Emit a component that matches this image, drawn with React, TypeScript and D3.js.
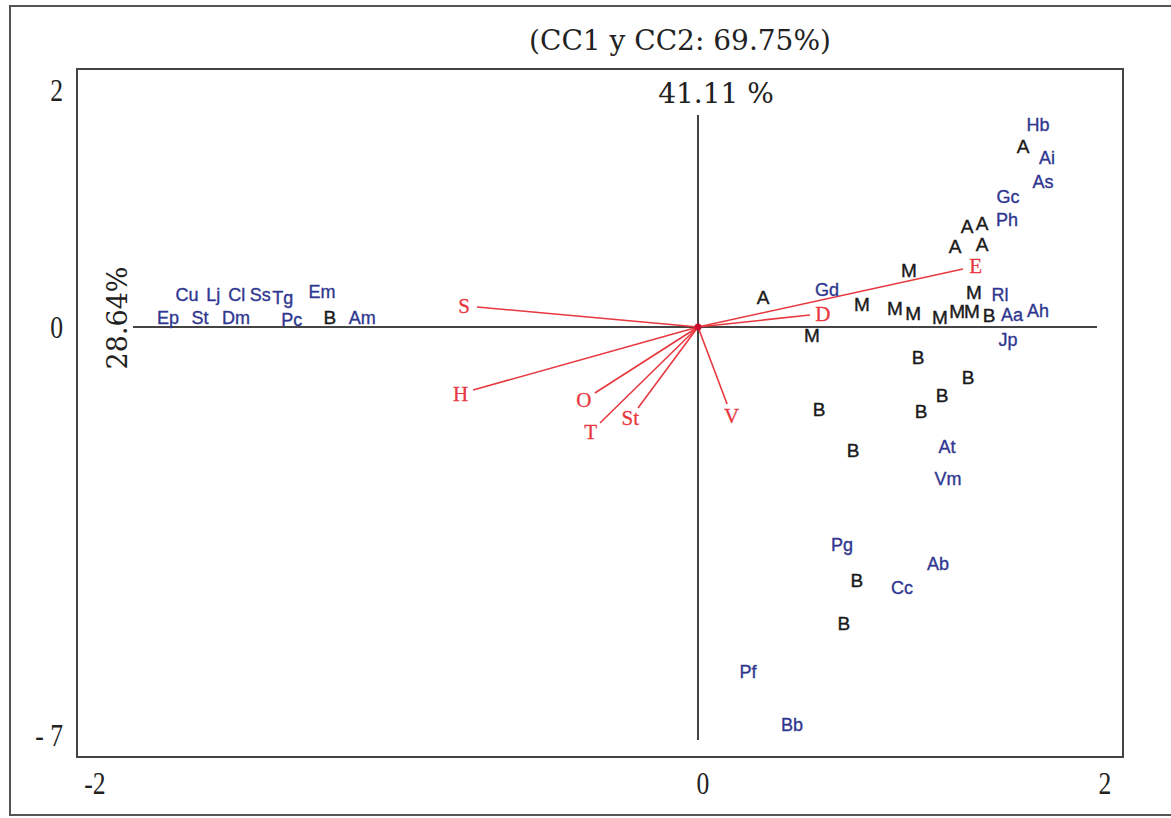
import React from "react";
import * as d3 from "d3";

// ---------- data ----------
const title = "(CC1 y CC2: 69.75%)";
const axis1Label = "41.11 %";
const axis2Label = "28.64%";

const xTickValues = [-2, 0, 2];
const xTickLabels = ["-2", "0", "2"];
const yTickValues = [2, 0, -7];
const yTickLabels = ["2", "0", "- 7"];

// group labels (black): A = alta, M = media, B = baja
const siteNames = ["A", "A", "A", "A", "A", "A", "M", "M", "M", "M", "M", "M", "M", "M", "B", "M", "B", "B", "B", "B", "B", "B", "B", "B", "B"];
const siteX = [0.32, 1.597, 1.322, 1.396, 1.263, 1.396, 1.037, 0.806, 0.968, 1.057, 1.189, 1.273, 1.346, 1.356, 1.43, 0.56, 1.081, 1.327, 1.199, 1.096, 0.595, 0.762, 0.781, 0.717, -1.221];
const siteY = [0.245, 1.519, 0.845, 0.871, 0.682, 0.7, 0.481, 0.186, 0.16, 0.118, 0.084, 0.135, 0.127, 0.29, 0.093, -0.154, -0.515, -0.858, -1.167, -1.458, -1.424, -2.127, -4.357, -5.095, 0.076];

// species (blue)
const speciesNames = ["Hb", "Ai", "As", "Gc", "Ph", "Gd", "Rl", "Aa", "Ah", "Jp", "At", "Vm", "Pg", "Ab", "Cc", "Pf", "Bb", "Cu", "Lj", "Cl", "Ss", "Tg", "Em", "Ep", "St", "Dm", "Pc", "Am"];
const speciesX = [1.671, 1.715, 1.695, 1.523, 1.518, 0.634, 1.484, 1.543, 1.671, 1.523, 1.224, 1.229, 0.708, 1.179, 1.002, 0.246, 0.462, -1.695, -1.608, -1.53, -1.452, -1.377, -1.247, -1.758, -1.652, -1.532, -1.347, -1.114];
const speciesY = [1.705, 1.426, 1.224, 1.097, 0.903, 0.312, 0.27, 0.101, 0.135, -0.223, -2.059, -2.608, -3.74, -4.066, -4.478, -5.919, -6.828, 0.27, 0.27, 0.27, 0.27, 0.245, 0.295, 0.076, 0.076, 0.076, 0.06, 0.076];

// environmental vectors (red)
const envNames = ["S", "H", "O", "T", "St", "V", "D", "E"];
const envX = [-0.733, -0.746, -0.342, -0.325, -0.199, 0.143, 0.55, 1.302];
const envY = [0.169, -1.081, -1.132, -1.647, -1.39, -1.321, 0.101, 0.49];

// ---------- layout ----------
const W = 1171;
const H = 818;
const plot = { left: 77, top: 69, right: 1123, bottom: 757 };

const x = d3.scaleLinear().domain([-2, 0, 2]).range([95, 698, 1105]);
const y = d3.scaleLinear().domain([-7, 0, 2]).range([735, 327, 90]);

const RED = "#e8383f";
const BLUE = "#2f3790";
const DARK = "#222";
const LINE = "#444";

export default function App() {
  const ox = x(0);
  const oy = y(0);
  return (
    <svg
      width={W}
      height={H}
      viewBox={`0 0 ${W} ${H}`}
      style={{ position: "absolute", left: 0, top: 0, background: "#fff" }}
    >
      <rect x={0} y={0} width={W} height={H} fill="#fff" />
      {/* outer frame (right side is cut at the image edge) */}
      <path d={`M${W + 5},6 H10 V815 H${W + 5}`} fill="none" stroke="#555" strokeWidth={2} />
      {/* title */}
      <text x={680} y={40} textAnchor="middle" dominantBaseline="central" fontFamily="DejaVu Serif" fontSize={28} fill={DARK}>
        {title}
      </text>
      {/* plot frame */}
      <rect
        x={plot.left}
        y={plot.top}
        width={plot.right - plot.left}
        height={plot.bottom - plot.top}
        fill="none"
        stroke={LINE}
        strokeWidth={2}
      />
      {/* axes through origin */}
      <line x1={133} x2={1097} y1={oy} y2={oy} stroke={LINE} strokeWidth={2} />
      <line x1={ox} x2={ox} y1={115} y2={740} stroke={LINE} strokeWidth={2} />
      <text x={716} y={93} textAnchor="middle" dominantBaseline="central" fontFamily="DejaVu Serif" fontSize={28} fill={DARK}>
        {axis1Label}
      </text>
      <text
        transform={`translate(117,318) rotate(-90)`}
        textAnchor="middle"
        dominantBaseline="central"
        fontFamily="DejaVu Serif"
        fontSize={27}
        fill={DARK}
      >
        {axis2Label}
      </text>
      {/* tick labels */}
      {xTickValues.map((v, i) => (
        <text
          key={"xt" + i}
          transform={`translate(${x(v) + (v === 0 ? 5 : 0)},783) scale(0.8,1)`}
          textAnchor="middle"
          dominantBaseline="central"
          fontFamily="Liberation Serif"
          fontSize={32}
          fill={DARK}
        >
          {xTickLabels[i]}
        </text>
      ))}
      {yTickValues.map((v, i) => (
        <text
          key={"yt" + i}
          transform={`translate(63,${y(v)}) scale(0.8,1)`}
          textAnchor="end"
          dominantBaseline="central"
          fontFamily="Liberation Serif"
          fontSize={32}
          fill={DARK}
        >
          {yTickLabels[i]}
        </text>
      ))}
      {/* environmental vectors */}
      {envNames.map((n, i) => {
        const ex = x(envX[i]);
        const ey = y(envY[i]);
        const dx = ex - ox;
        const dy = ey - oy;
        const len = Math.sqrt(dx * dx + dy * dy);
        const lx = ex + (dx / len) * 13;
        const ly = ey + (dy / len) * 13;
        return (
          <g key={"env" + i}>
            <line x1={ox} y1={oy} x2={ex} y2={ey} stroke={RED} strokeWidth={1.6} />
            <text
              x={lx}
              y={ly}
              textAnchor="middle"
              dominantBaseline="central"
              fontFamily="Liberation Serif"
              fontSize={21}
              fill={RED}
              stroke={RED}
              strokeWidth={0.3}
            >
              {n}
            </text>
          </g>
        );
      })}
      <circle cx={ox} cy={oy} r={3.5} fill="#c8102e" />
      {/* sites */}
      {siteNames.map((n, i) => (
        <text
          key={"s" + i}
          x={x(siteX[i])}
          y={y(siteY[i])}
          textAnchor="middle"
          dominantBaseline="central"
          fontFamily="Liberation Sans"
          fontSize={19}
          fill="#1a1a1a"
          stroke="#1a1a1a"
          strokeWidth={0.4}
        >
          {n}
        </text>
      ))}
      {/* species */}
      {speciesNames.map((n, i) => (
        <text
          key={"sp" + i}
          x={x(speciesX[i])}
          y={y(speciesY[i])}
          textAnchor="middle"
          dominantBaseline="central"
          fontFamily="Liberation Sans"
          fontSize={18}
          fill={BLUE}
          stroke={BLUE}
          strokeWidth={0.35}
        >
          {n}
        </text>
      ))}
    </svg>
  );
}
